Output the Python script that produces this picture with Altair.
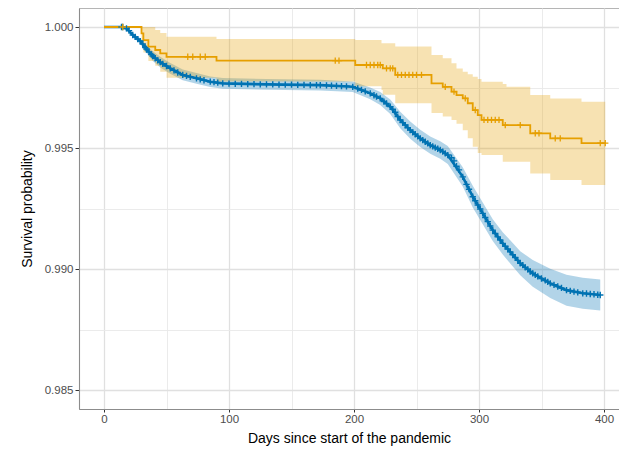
import altair as alt
import pandas as pd

# ---------------- data ----------------
# Orange group: Kaplan-Meier steps with 95% CI
o_day = [0, 30, 31.5, 35.5, 41, 45, 50, 90, 201, 222, 223, 233, 262, 271, 278, 282,
         287, 291, 295, 299, 302, 319, 322, 341, 357, 382, 401]
o_surv = [1.0, 0.99974, 0.99946, 0.99919, 0.99905, 0.99891, 0.99877, 0.99861, 0.99843,
          0.99843, 0.99829, 0.99802, 0.99767, 0.99753, 0.99733, 0.99719, 0.99705, 0.99685,
          0.99657, 0.99636, 0.99616, 0.99595, 0.99595, 0.99561, 0.99540, 0.99520, 0.99520]
o_up = [1.0, 1.0, 1.0, 1.0, 0.99988, 0.99975, 0.99960, 0.99950, 0.99946, 0.99933,
        0.99933, 0.99919, 0.99884, 0.99871, 0.99850, 0.99829, 0.99815, 0.99805, 0.99795,
        0.99785, 0.99774, 0.99765, 0.99753, 0.99719, 0.99705, 0.99691, 0.99691]
o_lo = [1.0, 0.99925, 0.99895, 0.99860, 0.99840, 0.99815, 0.99790, 0.99775, 0.99755,
        0.99740, 0.99720, 0.99685, 0.99645, 0.99630, 0.99616, 0.99600, 0.99574, 0.99540,
        0.99505, 0.99480, 0.99471, 0.99443, 0.99443, 0.99395, 0.99368, 0.99347, 0.99347]
o_cens_day = [15, 67, 71, 77, 81, 185, 188, 210, 213, 216, 219, 221, 226, 229, 231,
              235, 238, 241, 244, 247, 250, 254, 273, 280, 289, 297, 304, 307, 310, 313,
              316, 321, 333, 345, 348, 361, 365, 397, 401]
o_cens_surv = [1.0, 0.99877, 0.99877, 0.99877, 0.99877, 0.99861, 0.99861, 0.99843,
               0.99843, 0.99843, 0.99843, 0.99843, 0.99829, 0.99829, 0.99829, 0.99802,
               0.99802, 0.99802, 0.99802, 0.99802, 0.99802, 0.99802, 0.99753, 0.99733,
               0.99705, 0.99657, 0.99616, 0.99616, 0.99616, 0.99616, 0.99616, 0.99595,
               0.99595, 0.99561, 0.99561, 0.99540, 0.99540, 0.99520, 0.99520]

# Blue group: curve with 95% CI
b_day = [0, 14, 18, 23, 29, 34, 39, 45, 53, 63, 74, 85, 95, 130, 173, 199, 213, 221,
         229, 237, 245, 253, 261, 269, 275, 287, 295, 303, 311, 319, 325, 333, 343, 357,
         370, 383, 397]
b_surv = [1.0, 1.0, 0.99994, 0.99967, 0.99942, 0.99909, 0.99880, 0.99855, 0.99829,
          0.99802, 0.99788, 0.99774, 0.99767, 0.99763, 0.99760, 0.99753, 0.99726, 0.99705,
          0.99671, 0.99616, 0.99574, 0.99540, 0.99512, 0.99492, 0.99471, 0.99381, 0.99299,
          0.99230, 0.99161, 0.99106, 0.99071, 0.99024, 0.98982, 0.98941, 0.98913, 0.98900,
          0.98893]
b_up = [1.0, 1.0, 0.99997, 0.99975, 0.99954, 0.99925, 0.99900, 0.99877, 0.99851,
        0.99824, 0.99810, 0.99796, 0.99789, 0.99785, 0.99782, 0.99775, 0.99750, 0.99732,
        0.99701, 0.99650, 0.99610, 0.99576, 0.99548, 0.99528, 0.99508, 0.99421, 0.99344,
        0.99275, 0.99206, 0.99152, 0.99119, 0.99074, 0.99037, 0.99001, 0.98977, 0.98964,
        0.98957]
b_lo = [1.0, 1.0, 0.99991, 0.99959, 0.99930, 0.99893, 0.99860, 0.99833, 0.99807,
        0.99780, 0.99766, 0.99752, 0.99745, 0.99741, 0.99738, 0.99731, 0.99702, 0.99678,
        0.99641, 0.99582, 0.99538, 0.99504, 0.99476, 0.99456, 0.99434, 0.99341, 0.99254,
        0.99185, 0.99116, 0.99060, 0.99023, 0.98974, 0.98927, 0.98881, 0.98849, 0.98836,
        0.98829]
# Blue censoring marks (dense along the curve)
b_cens_day = [15, 20, 25, 27, 31, 33, 36, 38, 41, 43, 47, 50, 56, 59, 66, 69, 77, 80,
              88, 91, 100, 105, 110, 115, 120, 125, 135, 140, 145, 150, 155, 160, 165,
              170, 178, 182, 186, 190, 194, 203, 206, 209, 216, 218, 224, 226, 231, 233,
              235, 239, 241, 243, 247, 249, 251, 255, 257, 259, 263, 265, 267, 271, 273,
              278, 280, 282, 284, 290, 292, 297, 299, 301, 305, 307, 309, 313, 315, 317,
              321, 323, 327, 329, 331, 335, 337, 339, 341, 345, 347, 350, 353, 355, 360,
              363, 366, 373, 376, 379, 386, 389, 392, 395]
b_cens_surv = [1.0, 0.99985, 0.99959, 0.99950, 0.99930, 0.99915, 0.99897, 0.99886,
               0.99871, 0.99862, 0.99848, 0.99839, 0.99821, 0.99812, 0.99798, 0.99794,
               0.99784, 0.99780, 0.99772, 0.99770, 0.99766, 0.99765, 0.99765, 0.99764,
               0.99764, 0.99763, 0.99763, 0.99762, 0.99762, 0.99762, 0.99761, 0.99761,
               0.99760, 0.99760, 0.99759, 0.99758, 0.99757, 0.99756, 0.99755, 0.99746,
               0.99740, 0.99734, 0.99718, 0.99713, 0.99692, 0.99684, 0.99660, 0.99648,
               0.99630, 0.99605, 0.99595, 0.99584, 0.99565, 0.99557, 0.99548, 0.99533,
               0.99526, 0.99519, 0.99507, 0.99502, 0.99497, 0.99485, 0.99478, 0.99460,
               0.99447, 0.99425, 0.99410, 0.99350, 0.99330, 0.99282, 0.99265, 0.99248,
               0.99213, 0.99196, 0.99178, 0.99147, 0.99133, 0.99120, 0.99094, 0.99083,
               0.99059, 0.99048, 0.99036, 0.99016, 0.99007, 0.98999, 0.98990, 0.98976,
               0.98970, 0.98961, 0.98953, 0.98947, 0.98935, 0.98928, 0.98922, 0.98910,
               0.98907, 0.98904, 0.98899, 0.98897, 0.98896, 0.98894]

x_ticks = [0, 50, 100, 150, 200, 250, 300, 350, 400]
y_ticks = [0.985, 0.9875, 0.99, 0.9925, 0.995, 0.9975, 1.0]

ORANGE = "#E69F00"
BLUE = "#0072B2"

orange = pd.DataFrame({"day": o_day, "surv": o_surv, "up": o_up, "lo": o_lo})
orange_c = pd.DataFrame({"day": o_cens_day, "surv": o_cens_surv})
blue = pd.DataFrame({"day": b_day, "surv": b_surv, "up": b_up, "lo": b_lo})
blue_c = pd.concat([
    blue[blue["day"] >= 14][["day", "surv"]],
    pd.DataFrame({"day": b_cens_day, "surv": b_cens_surv}),
])

major_x = "datum.value % 100 === 0"
major_y = "abs(datum.value * 200 - round(datum.value * 200)) < 1e-6"

x_scale = alt.Scale(domain=[-20, 412], nice=False, zero=False)
y_scale = alt.Scale(domain=[0.98422, 1.000785], nice=False, zero=False)

x_axis = alt.Axis(
    values=x_ticks,
    title="Days since start of the pandemic",
    labelExpr=f"{major_x} ? datum.label : ''",
    tickOpacity={"condition": {"test": major_x, "value": 1}, "value": 0},
    gridWidth={"condition": {"test": major_x, "value": 1.3}, "value": 0.9},
    gridColor={"condition": {"test": major_x, "value": "#E0E0E0"}, "value": "#E9E9E9"},
    titleY=33, titleBaseline="alphabetic", titleAnchor="middle",
    tickSize=3, labelPadding=1,
)
y_axis = alt.Axis(
    values=y_ticks,
    title="Survival probability",
    labelExpr=f"{major_y} ? format(datum.value, '.3f') : ''",
    tickOpacity={"condition": {"test": major_y, "value": 1}, "value": 0},
    gridWidth={"condition": {"test": major_y, "value": 1.3}, "value": 0.9},
    gridColor={"condition": {"test": major_y, "value": "#E0E0E0"}, "value": "#E9E9E9"},
    titleX=-52, titleY=200.5, titleAngle=270, titleAlign="center",
    titleBaseline="middle", tickSize=4, labelPadding=2,
)

X = alt.X("day:Q", scale=x_scale, axis=x_axis)
Y = alt.Y("surv:Q", scale=y_scale, axis=y_axis)

plus = "M-1,0L1,0M0,-1L0,1"

blue_band = alt.Chart(blue).mark_area(color=BLUE, opacity=0.3).encode(
    x=X, y=alt.Y("lo:Q", scale=y_scale, axis=y_axis), y2="up:Q")
orange_band = alt.Chart(orange).mark_area(
    color=ORANGE, opacity=0.3, interpolate="step-after").encode(
    x=X, y=alt.Y("lo:Q", scale=y_scale, axis=y_axis), y2="up:Q")
blue_line = alt.Chart(blue).mark_line(color=BLUE, strokeWidth=2.6).encode(x=X, y=Y)
orange_line = alt.Chart(orange).mark_line(
    color=ORANGE, strokeWidth=1.8, interpolate="step-after").encode(x=X, y=Y)
blue_pts = alt.Chart(blue_c).mark_point(
    shape=plus, size=40, color=BLUE, strokeWidth=1.4, filled=False, opacity=1
).encode(x=X, y=Y)
orange_pts = alt.Chart(orange_c).mark_point(
    shape=plus, size=40, color=ORANGE, strokeWidth=1.3, filled=False, opacity=1
).encode(x=X, y=Y)

chart = alt.layer(
    blue_band, orange_band, blue_line, orange_line, blue_pts, orange_pts
).properties(
    width=540, height=401,
    autosize=alt.AutoSizeParams(type="none"),
    padding={"left": 71, "top": 0, "right": 0, "bottom": 37},
).configure_view(
    stroke="#B5B5B5", strokeWidth=1
).configure_axis(
    labelFont="Liberation Sans", labelFontSize=11.5, labelColor="#4D4D4D",
    titleFont="Liberation Sans", titleFontSize=14, titleColor="#000000",
    titleFontWeight="normal",
    domainColor="#8C8C8C", domainWidth=1.1,
    tickColor="#333333", tickWidth=1,
)

chart.save("out.html", embed_options={"renderer": "svg", "actions": False})
